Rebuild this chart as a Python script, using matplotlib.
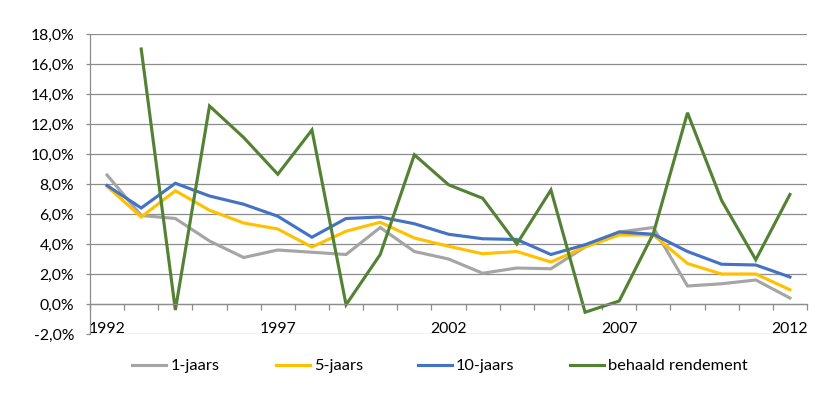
import matplotlib
matplotlib.use("Agg")
import matplotlib.pyplot as plt
from matplotlib.ticker import FuncFormatter, FixedLocator

years = list(range(1992, 2013))
jaars1 = [8.6, 5.9, 5.7, 4.2, 3.1, 3.6, 3.45, 3.3, 5.1, 3.5, 3.0, 2.05, 2.4, 2.35, 3.8, 4.8, 5.1, 1.2, 1.35, 1.6, 0.4]
jaars5 = [7.85, 5.8, 7.55, 6.25, 5.4, 5.0, 3.8, 4.85, 5.45, 4.4, 3.85, 3.35, 3.5, 2.8, 3.8, 4.6, 4.6, 2.7, 2.0, 2.0, 0.95]
jaars10 = [7.9, 6.4, 8.05, 7.2, 6.65, 5.85, 4.45, 5.7, 5.8, 5.35, 4.65, 4.35, 4.3, 3.3, 3.95, 4.8, 4.65, 3.5, 2.65, 2.6, 1.8]
behaald_years = list(range(1993, 2013))
behaald = [17.0, -0.4, 13.2, 11.1, 8.65, 11.6, -0.05, 3.3, 9.95, 7.95, 7.05, 4.0, 7.6, -0.55, 0.2, 4.7, 12.75, 6.9, 2.95, 7.3]
xlabels = ["1992", "1997", "2002", "2007", "2012"]
series_names = ["1-jaars", "5-jaars", "10-jaars", "behaald rendement"]

plt.rcParams['font.family'] = ['Lato', 'DejaVu Sans']

fig = plt.figure(figsize=(8.15, 3.98), dpi=100)
ax = fig.add_axes([90/815, 1 - 334/398, (807-90)/815, (334-34)/398])

xi = [y - years[0] for y in years]
xb = [y - years[0] for y in behaald_years]
lw = 2.25
h1, = ax.plot(xi, jaars1, color="#A5A5A5", lw=lw, solid_joinstyle="miter")
h2, = ax.plot(xi, jaars5, color="#FFC000", lw=lw, solid_joinstyle="miter")
h3, = ax.plot(xi, jaars10, color="#4472C4", lw=lw, solid_joinstyle="miter")
h4, = ax.plot(xb, behaald, color="#548235", lw=lw, solid_joinstyle="miter")

gc = "#8c8c8c"
ax.set_xlim(-0.5, len(years) - 0.5)
ax.set_ylim(-2, 18)
ax.set_yticks(range(-2, 19, 2))
ax.yaxis.set_major_formatter(FuncFormatter(lambda v, p: f"{v:.1f}%".replace(".", ",")))
ax.grid(axis="y", color=gc, lw=0.9)
ax.set_axisbelow(True)

label_idx = [years.index(int(s)) for s in xlabels]
ax.set_xticks(label_idx)
ax.set_xticklabels(xlabels)
ax.xaxis.set_minor_locator(FixedLocator([i - 0.5 for i in range(len(years) + 1)]))
ax.tick_params(axis="x", which="major", length=0, pad=13, labelsize=11.3, colors="black")
ax.tick_params(axis="x", which="minor", length=4, width=0.9, color=gc, direction="out")
ax.tick_params(axis="y", which="major", length=3, width=0.9, color=gc, pad=8.5, labelsize=11.3, labelcolor="black")

for s in ["top", "right"]:
    ax.spines[s].set_visible(False)
ax.spines["bottom"].set_position(("data", 0))
ax.spines["bottom"].set_color(gc)
ax.spines["bottom"].set_linewidth(0.9)
ax.spines["left"].set_color(gc)
ax.spines["left"].set_linewidth(0.9)

starts = [132.3, 275.7, 418, 570]
for h, name, x0 in zip([h1, h2, h3, h4], series_names, starts):
    fig.legend([h], [name], loc="center left", bbox_to_anchor=(x0/815, 1 - 366/398),
               frameon=False, fontsize=11.8, handlelength=2.07, handletextpad=0.25,
               borderpad=0, borderaxespad=0)

fig.savefig("out.png", dpi=100)
